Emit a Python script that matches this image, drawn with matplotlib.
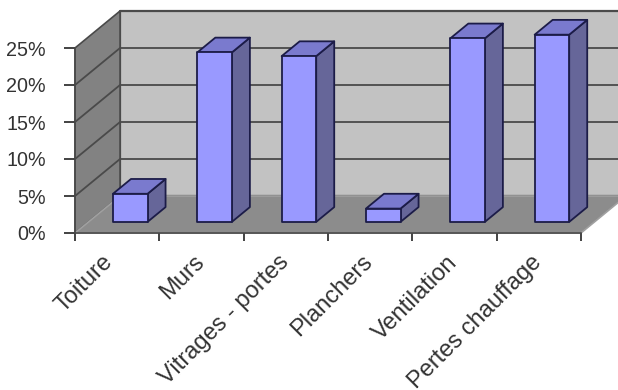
import matplotlib
matplotlib.use("Agg")
import matplotlib.pyplot as plt
from matplotlib.patches import Polygon

plt.rcParams['font.family'] = ['Liberation Sans', 'DejaVu Sans']

categories = ["Toiture", "Murs", "Vitrages - portes", "Planchers", "Ventilation", "Pertes chauffage"]
values = [3.8, 22.9, 22.4, 1.8, 24.8, 25.3]
percent_ticks = [0, 5, 10, 15, 20, 25]

# oblique projection: how far the back of the box shifts, in data units
DEPTH_X = 0.534
DEPTH_Y = 5.0
BAR_WIDTH = 0.41
BAR_OFFSET = 0.29
BAR_NEAR, BAR_FAR = 0.30, 0.70

OUTLINE = "#1c1c48"
WALL_LINE = "#4a4a4a"


def project(x, depth, v):
    return (x + DEPTH_X * depth, v + DEPTH_Y * depth)


def face(ax, corners, color, edge, lw=1.3, z=2):
    pts = [project(*c) for c in corners]
    ax.add_patch(Polygon(pts, closed=True, facecolor=color, edgecolor=edge,
                         linewidth=lw, joinstyle="round", clip_on=False, zorder=z))


W, H = 618, 390
fig = plt.figure(figsize=(W / 100, H / 100), dpi=100)
ax = fig.add_axes([75 / W, (H - 233) / H, 506 / W, 185 / H])
ax.set_xlim(0, 6)
ax.set_ylim(0, 25)
ax.patch.set_visible(False)

n = len(categories)
top = percent_ticks[-1]

# walls and floor of the 3D box
face(ax, [(0, 1, 0), (n, 1, 0), (n, 1, top), (0, 1, top)], "#c2c2c2", WALL_LINE, 1.6, 1)
face(ax, [(0, 0, 0), (0, 1, 0), (0, 1, top), (0, 0, top)], "#828282", WALL_LINE, 1.2, 1)
face(ax, [(0, 0, 0), (n, 0, 0), (n, 1, 0), (0, 1, 0)], "#8c8c8c", "#a0a0a0", 1.2, 1.1)

# gridlines wrap round the side wall and the back wall
for v in percent_ticks[1:-1]:
    xs, ys = zip(project(0, 0, v), project(0, 1, v), project(n, 1, v))
    ax.plot(xs, ys, color=WALL_LINE, lw=1.3, clip_on=False, zorder=1.2)

for i, v in enumerate(values):
    x0 = i + BAR_OFFSET
    x1 = x0 + BAR_WIDTH
    face(ax, [(x1, BAR_NEAR, 0), (x1, BAR_FAR, 0), (x1, BAR_FAR, v), (x1, BAR_NEAR, v)], "#666699", OUTLINE)
    face(ax, [(x0, BAR_NEAR, v), (x1, BAR_NEAR, v), (x1, BAR_FAR, v), (x0, BAR_FAR, v)], "#7a7ace", OUTLINE)
    face(ax, [(x0, BAR_NEAR, 0), (x1, BAR_NEAR, 0), (x1, BAR_NEAR, v), (x0, BAR_NEAR, v)], "#9999ff", OUTLINE)

for side in ("top", "right"):
    ax.spines[side].set_visible(False)
for side in ("left", "bottom"):
    ax.spines[side].set_color(WALL_LINE)
    ax.spines[side].set_linewidth(1.2)

ax.set_yticks(percent_ticks)
ax.set_yticklabels([f"{p}%" for p in percent_ticks], fontsize=14.2, color="#333333")
ax.tick_params(axis="y", length=8, width=1.2, color="#222222", pad=13)

ax.set_xticks(range(n + 1))
ax.set_xticklabels([])
ax.tick_params(axis="x", which="major", length=6, width=1.2, color="#222222")
# the first label sits a little further left than the others
ax.set_xticks([i + (0.32 if i == 0 else 0.4) for i in range(n)], minor=True)
ax.set_xticklabels(categories, minor=True, rotation=45, ha="right", va="top",
                   rotation_mode="anchor", fontsize=17, color="#333333")
ax.tick_params(axis="x", which="minor", length=0, pad=13)

fig.savefig("out.png", dpi=100)
